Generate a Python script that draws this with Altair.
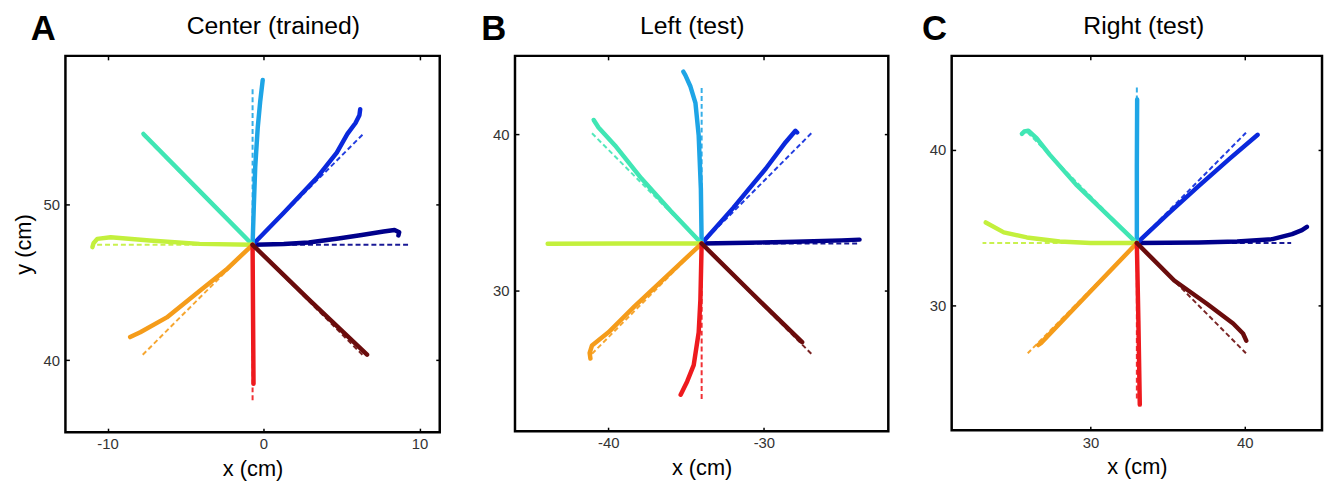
import altair as alt
import pandas as pd

FONT = "Liberation Sans"

DIRS = ["0", "45", "90", "135", "180", "225", "270", "315"]
COLORS = ["#00008b", "#0a28dc", "#1ea5e6", "#40e6b4", "#c3f03c", "#f59c1a", "#ee1a1e", "#6a0c0c"]

# target (dashed) end offsets from the start point, cm
TARGET_DX = [10, 7.07, 0, -7.07, -10, -7.07, 0, 7.07]
TARGET_DY = [0, 7.07, 10, 7.07, 0, -7.07, -10, -7.07]

# ---- Panel A: Center (trained) ----
A_CENTER = [-0.7, 47.4]
A_DX = [
    [0, 2, 3.6, 5.5, 7.0, 8.4, 9.1, 9.4, 9.35],
    [0, 2, 4.18, 5.4, 6.08, 6.6, 6.85, 6.9],
    [0, 0.08, 0.17, 0.33, 0.49, 0.65],
    [0, -3.5, -7.0],
    [0, -3.4, -6.6, -9.1, -9.96, -10.2, -10.27],
    [0, -1.7, -3.42, -5.5, -7.2, -7.85],
    [0, 0.03, 0.06],
    [0, 3.6, 7.34],
]
A_DY = [
    [0, 0.05, 0.15, 0.4, 0.63, 0.85, 0.95, 0.8, 0.6],
    [0, 2.05, 4.36, 5.9, 7.1, 7.8, 8.3, 8.68],
    [0, 2.5, 5.0, 7.5, 9.2, 10.55],
    [0, 3.55, 7.1],
    [0, 0.06, 0.27, 0.48, 0.38, 0.1, -0.15],
    [0, -1.6, -2.97, -4.65, -5.6, -5.91],
    [0, -4.5, -8.9],
    [0, -3.5, -7.04],
]

# ---- Panel B: Left (test) ----
B_CENTER = [-34.0, 33.0]
B_DX = [
    [0, 3, 6, 9, 10.15],
    [0, 2.03, 4.13, 5.4, 6.03, 6.14],
    [0, -0.05, -0.19, -0.4, -0.72, -1.05, -1.18],
    [0, -2, -3.88, -5.57, -6.63, -6.94],
    [0, -5, -9.9],
    [0, -2.1, -4.3, -5.99, -7.05, -7.2, -7.15],
    [0, -0.08, -0.19, -0.51, -0.93, -1.35],
    [0, 3.2, 6.46],
]
B_DY = [
    [0, 0.05, 0.12, 0.2, 0.25],
    [0, 2.28, 4.8, 6.48, 7.21, 7.1],
    [0, 3.5, 6.9, 9.0, 10.04, 10.77, 10.99],
    [0, 2.1, 4.17, 6.27, 7.42, 7.9],
    [0, 0.0, -0.02],
    [0, -1.95, -4.0, -5.68, -6.52, -7.0, -7.36],
    [0, -3.58, -5.68, -7.78, -8.82, -9.67],
    [0, -3.15, -6.31],
]

# ---- Panel C: Right (test) ----
C_CENTER = [33.0, 34.0]
C_DX = [
    [0, 4, 6.5, 8.79, 10.06, 10.7, 11.02],
    [0, 2, 4, 6, 7.83],
    [0, 0, 0.02],
    [0, -3.95, -5.65, -6.5, -7.03, -7.3, -7.45],
    [0, -3, -5, -7.13, -8.62, -9.79],
    [0, -3.2, -6.2, -6.39],
    [0, 0.1, 0.19],
    [0, 2.42, 4.54, 6.24, 6.88, 7.09],
]
C_DY = [
    [0, 0.03, 0.1, 0.25, 0.57, 0.83, 1.04],
    [0, 1.85, 3.65, 5.4, 6.94],
    [0, 5, 9.2],
    [0, 3.76, 5.67, 6.73, 7.2, 7.15, 7.0],
    [0, 0.0, 0.1, 0.36, 0.68, 1.32],
    [0, -3.3, -6.4, -6.54],
    [0, -5, -10.36],
    [0, -2.4, -3.89, -5.16, -5.8, -6.26],
]

PANELS = [
    dict(letter="A", title="Center (trained)", center=A_CENTER, dx=A_DX, dy=A_DY,
         xdom=[-12.7, 11.3], ydom=[35.4, 59.5], xticks=[-10, 0, 10], yticks=[40, 50],
         w=378, h=380, ytitle="y (cm)", tx=210, lx=-35),
    dict(letter="B", title="Left (test)", center=B_CENTER, dx=B_DX, dy=B_DY,
         xdom=[-46, -22], ydom=[21, 45], xticks=[-40, -30], yticks=[30, 40],
         w=377, h=379, ytitle=None, tx=179, lx=-34),
    dict(letter="C", title="Right (test)", center=C_CENTER, dx=C_DX, dy=C_DY,
         xdom=[21, 45], ydom=[22, 46], xticks=[30, 40], yticks=[30, 40],
         w=374, h=378, ytitle=None, tx=194, lx=-30),
]

cscale = alt.Scale(domain=DIRS, range=COLORS)


def make_panel(p):
    cx, cy = p["center"]
    srows, trows = [], []
    for k, d in enumerate(DIRS):
        for i, (ddx, ddy) in enumerate(zip(p["dx"][k], p["dy"][k])):
            srows.append({"dir": d, "i": i, "x": cx + ddx, "y": cy + ddy})
        trows.append({"dir": d, "i": 0, "x": cx, "y": cy})
        trows.append({"dir": d, "i": 1, "x": cx + TARGET_DX[k], "y": cy + TARGET_DY[k]})
    sdf = pd.DataFrame(srows)
    tdf = pd.DataFrame(trows)

    xs = alt.Scale(domain=p["xdom"], nice=False, zero=False)
    ys = alt.Scale(domain=p["ydom"], nice=False, zero=False)

    common = dict(offset=-4, tickSize=4, tickWidth=1.5, tickColor="black",
                  domain=False, grid=False)
    xaxis = alt.Axis(values=p["xticks"], labelFontSize=15, labelFont=FONT,
                     labelColor="#333333", labelPadding=5,
                     labelExpr="toString(datum.value)",
                     title="x (cm)", titleFontSize=22, titleFont=FONT,
                     titleFontWeight="normal", titleColor="black", titlePadding=7,
                     **common)
    yaxis_kw = dict(values=p["yticks"], labelFontSize=15, labelFont=FONT,
                    labelColor="#333333", labelPadding=6,
                    labelExpr="toString(datum.value)", **common)
    if p["ytitle"]:
        yaxis = alt.Axis(title=p["ytitle"], titleFontSize=22, titleFont=FONT,
                         titleFontWeight="normal", titleColor="black",
                         titlePadding=8, **yaxis_kw)
    else:
        yaxis = alt.Axis(title=None, **yaxis_kw)

    xaxis2 = alt.Axis(orient="top", values=p["xticks"], labels=False, title=None,
                      minExtent=0, **common)
    yaxis2 = alt.Axis(orient="right", values=p["yticks"], labels=False, title=None,
                      minExtent=0, **common)

    target = alt.Chart(tdf).mark_line(strokeWidth=2.0, strokeDash=[5, 3], opacity=0.9).encode(
        x=alt.X("x:Q", scale=xs, axis=xaxis),
        y=alt.Y("y:Q", scale=ys, axis=yaxis),
        color=alt.Color("dir:N", scale=cscale, legend=None),
        order="i:Q",
    )
    solid = alt.Chart(sdf).mark_line(strokeWidth=4.5, strokeCap="round", strokeJoin="round").encode(
        x=alt.X("x:Q", scale=xs, axis=xaxis2),
        y=alt.Y("y:Q", scale=ys, axis=yaxis2),
        color=alt.Color("dir:N", scale=cscale, legend=None),
        order="i:Q",
    )
    letter = alt.Chart(pd.DataFrame({"t": [p["letter"]]})).mark_text(
        font=FONT, fontSize=35, fontWeight="bold", align="left", baseline="top",
        color="black",
    ).encode(text="t:N", x=alt.value(p["lx"]), y=alt.value(-44))
    title = alt.Chart(pd.DataFrame({"t": [p["title"]]})).mark_text(
        font=FONT, fontSize=25, fontWeight="normal", align="center", baseline="top",
        color="black",
    ).encode(text="t:N", x=alt.value(p["tx"]), y=alt.value(-42))
    return alt.layer(target, solid, letter, title).resolve_axis(
        x="independent", y="independent"
    ).properties(width=p["w"], height=p["h"])


pa, pb, pc = [make_panel(p) for p in PANELS]

chart = alt.hconcat(alt.hconcat(pa, pb, spacing=38), pc, spacing=30).configure(
    padding={"left": 3, "top": 0, "right": 0, "bottom": 0}, background="white"
).configure_view(stroke="black", strokeWidth=2.5)

chart.save("out.html", embed_options={"renderer": "svg", "actions": False})
